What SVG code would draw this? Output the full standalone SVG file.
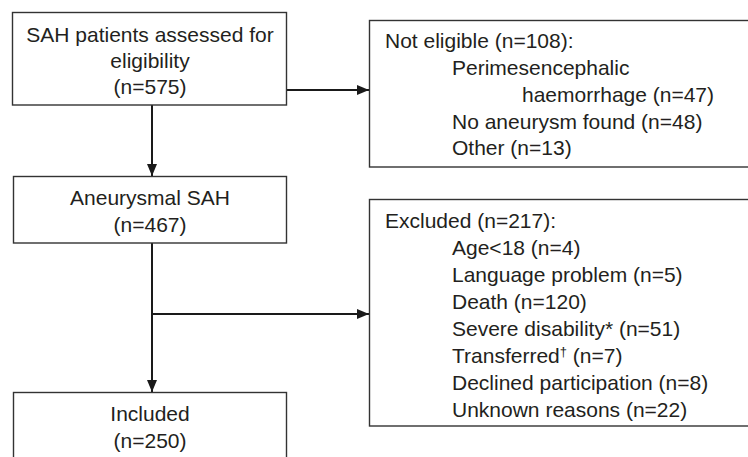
<svg xmlns="http://www.w3.org/2000/svg" width="748" height="457" viewBox="0 0 748 457">
<defs>
<marker id="arrow" markerUnits="userSpaceOnUse" markerWidth="13" markerHeight="11" refX="12" refY="5" orient="auto">
<path d="M0,0 L12,5 L0,10 Z" fill="#1a1a1a"/>
</marker>
<style>
.box{fill:#ffffff;stroke:#333333;stroke-width:1.4}
.t{font-family:"Liberation Sans",Arial,sans-serif;font-size:21px;fill:#231f20}
.c{text-anchor:middle}
.conn{stroke:#1a1a1a;stroke-width:2;fill:none}
</style>
</defs>
<rect x="0" y="0" width="748" height="457" fill="#ffffff"/>
<g id="connectors">
<line class="conn" x1="152" y1="105" x2="152" y2="176" marker-end="url(#arrow)"/>
<line class="conn" x1="286" y1="90" x2="369" y2="90" marker-end="url(#arrow)"/>
<line class="conn" x1="152" y1="243" x2="152" y2="392" marker-end="url(#arrow)"/>
<line class="conn" x1="151" y1="314" x2="369" y2="314" marker-end="url(#arrow)"/>
</g>
<g id="assessed">
<rect class="box" x="12.5" y="12.5" width="274" height="92.5"/>
<text class="t c" x="150" y="42">SAH patients assessed for</text>
<text class="t c" x="150" y="68">eligibility</text>
<text class="t c" x="150" y="94">(n=575)</text>
</g>
<g id="not-eligible">
<rect class="box" x="369.5" y="20.5" width="390" height="146.5"/>
<text class="t" x="385" y="48">Not eligible (n=108):</text>
<text class="t" x="452" y="75">Perimesencephalic</text>
<text class="t" x="522" y="102">haemorrhage (n=47)</text>
<text class="t" x="452" y="129">No aneurysm found (n=48)</text>
<text class="t" x="452" y="155">Other (n=13)</text>
</g>
<g id="aneurysmal">
<rect class="box" x="13.5" y="176.5" width="273" height="66.5"/>
<text class="t c" x="150" y="205">Aneurysmal SAH</text>
<text class="t c" x="150" y="232">(n=467)</text>
</g>
<g id="excluded">
<rect class="box" x="369.5" y="199.5" width="390" height="226.5"/>
<text class="t" x="385" y="228">Excluded (n=217):</text>
<text class="t" x="452" y="255">Age&lt;18 (n=4)</text>
<text class="t" x="452" y="282">Language problem (n=5)</text>
<text class="t" x="452" y="309">Death (n=120)</text>
<text class="t" x="452" y="336">Severe disability* (n=51)</text>
<text class="t" x="452" y="363">Transferred<tspan font-size="13" dy="-7">†</tspan><tspan dy="7"> (n=7)</tspan></text>
<text class="t" x="452" y="390">Declined participation (n=8)</text>
<text class="t" x="452" y="417">Unknown reasons (n=22)</text>
</g>
<g id="included">
<rect class="box" x="13.5" y="392.5" width="273" height="80"/>
<text class="t c" x="150" y="421">Included</text>
<text class="t c" x="150" y="448">(n=250)</text>
</g>
</svg>
